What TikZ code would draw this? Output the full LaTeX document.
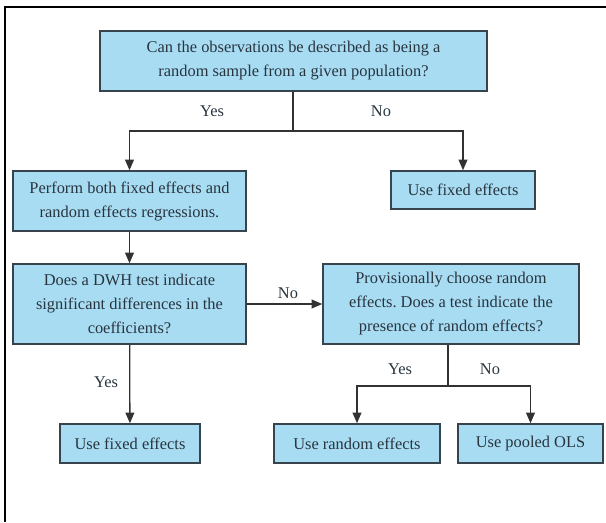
\documentclass[tikz,border=0pt]{standalone}
\usepackage{fontspec}
\setmainfont{Liberation Serif}
\usepackage{tikz}
\usetikzlibrary{arrows.meta}
\frenchspacing
\definecolor{boxfill}{RGB}{168,220,243}
\definecolor{boxline}{RGB}{55,68,78}
\definecolor{inktext}{RGB}{40,52,62}
\definecolor{wire}{RGB}{50,50,50}
\tikzset{
  qbox/.style={draw=boxline, fill=boxfill, line width=1.3pt, align=center,
    text=inktext, inner sep=0pt, font=\rmfamily\fontsize{14}{20.5}\selectfont},
  lbl/.style={text=inktext, inner sep=0pt, font=\rmfamily\fontsize{14}{20.5}\selectfont},
  wirel/.style={draw=wire, line width=1.1pt},
  arr/.style={wirel, -{Triangle[length=9pt,width=7.5pt]}}
}

\begin{document}
\begin{tikzpicture}[x=0.03cm,y=-0.03cm]
\useasboundingbox (0,0) rectangle (606,522);
\draw[line width=1.8pt] (5,522) -- (5,7) -- (606,7);

\node[qbox, minimum width=387*0.03cm, minimum height=60*0.03cm] (sample) at (293.5,61)
  {Can the observations be described as being a\\random sample from a given population?};
\node[qbox, minimum width=233*0.03cm, minimum height=60*0.03cm] (both) at (129.5,201)
  {Perform both fixed effects and\\random effects regressions.};
\node[qbox, minimum width=144*0.03cm, minimum height=38*0.03cm] (fixedtop) at (463,190)
  {Use fixed effects};
\node[qbox, minimum width=233*0.03cm, minimum height=80*0.03cm] (dwh) at (129.5,304)
  {Does a DWH test indicate\\significant differences in the\\coefficients?};
\node[qbox, minimum width=256*0.03cm, minimum height=80*0.03cm] (prov) at (451,304)
  {Provisionally choose random\\effects. Does a test indicate the\\presence of random effects?};
\node[qbox, minimum width=140*0.03cm, minimum height=39*0.03cm] (fixedbot) at (130,443.5)
  {Use fixed effects};
\node[qbox, minimum width=166*0.03cm, minimum height=39*0.03cm] (random) at (357,443.5)
  {Use random effects};
\node[qbox, minimum width=145*0.03cm, minimum height=39*0.03cm] (pooled) at (530.5,443.5)
  {Use pooled OLS};

\coordinate (split1) at (293,131);
\coordinate (split2) at (448,386);

\draw[wirel] (sample.south -| split1) -- (split1);
\draw[arr] (split1) -| (both.north);
\draw[arr] (split1) -| (fixedtop.north);
\draw[arr] (both) -- (dwh);
\draw[arr] (dwh) -- (prov);
\draw[arr] (dwh) -- (fixedbot);
\draw[wirel] (prov.south -| split2) -- (split2);
\draw[arr] (split2) -| (random.north);
\draw[arr] (split2) -| (pooled.north);

\node[lbl] (yes1) at (212,111) {Yes};
\node[lbl] (no1) at (381,111) {No};
\node[lbl] (no2) at (288,293) {No};
\node[lbl] (yes2) at (106,382) {Yes};
\node[lbl] (yes3) at (400,369) {Yes};
\node[lbl] (no3) at (490,369) {No};
\end{tikzpicture}
\end{document}
